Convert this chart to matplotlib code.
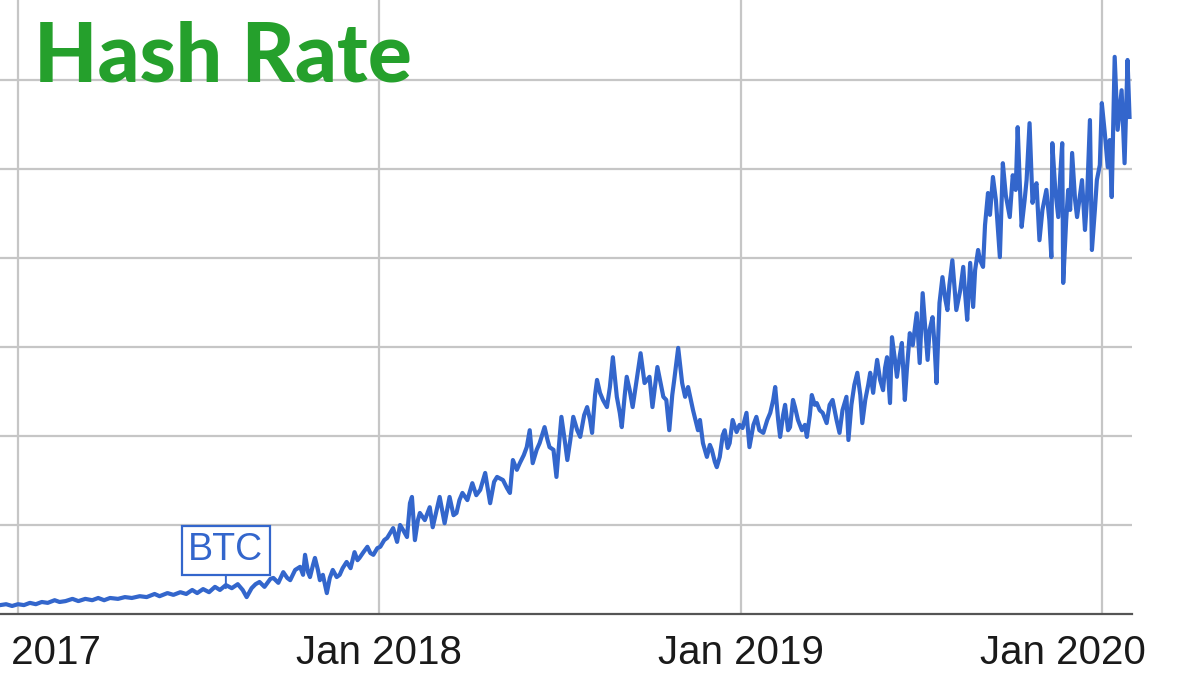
import matplotlib
matplotlib.use("Agg")
import pandas as pd
import matplotlib.pyplot as plt
import matplotlib.transforms as mtrans

# ---------------- data ----------------
START = pd.Timestamp("2017-01-01")
# days since 2017-01-01
days = [-18, -12, -6, 0, 6, 12, 18, 24, 30, 37, 42, 48, 55, 61, 68, 75, 81, 87, 93, 101,
        108, 115, 123, 130, 138, 143, 151, 157, 164, 170, 176, 181, 187, 193, 199, 204, 210, 216, 222, 227,
        231, 236, 240, 244, 249, 255, 258, 263, 268, 272, 275, 280, 285, 288, 290, 293, 295, 298, 300, 303,
        305, 308, 312, 315, 318, 322, 325, 328, 332, 336, 340, 343, 345, 349, 353, 356, 359, 363, 366, 370,
        373, 376, 379, 383, 386, 389, 393, 396, 398, 401, 404, 406, 411, 416, 419, 423, 426, 431, 436, 440,
        443, 446, 449, 454, 459, 463, 467, 472, 477, 481, 484, 490, 494, 497, 500, 504, 507, 511, 514, 517,
        520, 524, 527, 532, 535, 537, 541, 544, 547, 549, 553, 555, 558, 561, 565, 568, 572, 575, 578, 580,
        583, 585, 588, 591, 595, 598, 601, 605, 608, 610, 613, 615, 618, 621, 625, 629, 633, 638, 641, 646,
        652, 655, 658, 661, 663, 667, 671, 674, 677, 682, 687, 689, 692, 696, 699, 701, 704, 706, 709, 712,
        714, 717, 719, 722, 726, 729, 732, 736, 739, 743, 746, 749, 753, 757, 760, 763, 765, 768, 770, 773,
        775, 778, 780, 783, 785, 788, 792, 795, 797, 800, 802, 805, 807, 810, 813, 817, 820, 823, 827, 830,
        833, 837, 839, 842, 845, 848, 851, 853, 856, 859, 861, 864, 866, 868, 871, 874, 876, 878, 881, 883,
        886, 888, 891, 893, 896, 898, 901, 904, 908, 911, 914, 916, 919, 921, 924, 926, 928, 931, 934, 937,
        939, 941, 944, 946, 948, 952, 955, 957, 959, 962, 965, 967, 970, 972, 975, 977, 980, 982, 985, 988,
        992, 995, 998, 1002, 1005, 1008, 1010, 1012, 1014, 1017, 1019, 1022, 1025, 1027, 1029, 1032, 1035, 1039, 1042, 1044,
        1045, 1048, 1051, 1053, 1055, 1056, 1059, 1061, 1063, 1065, 1068, 1070, 1073, 1075, 1078, 1080, 1083, 1085, 1088, 1090,
        1093, 1095, 1098, 1101, 1103, 1105, 1108, 1111, 1113, 1115, 1118, 1121, 1123]
# hash rate, EH/s
hash_rate = [2.0, 2.2, 1.8, 2.2, 2.0, 2.5, 2.2, 2.7, 2.5, 3.1, 2.7, 2.9, 3.4, 2.9, 3.4, 3.1, 3.6, 3.1, 3.6, 3.4,
             3.8, 3.6, 4.0, 3.8, 4.5, 4.0, 4.7, 4.3, 4.9, 4.5, 5.4, 4.7, 5.6, 4.9, 6.1, 5.4, 6.5, 5.8, 6.7, 5.4,
             3.8, 5.8, 6.7, 7.2, 6.1, 7.9, 8.1, 7.0, 9.4, 8.1, 7.6, 9.9, 10.6, 8.8, 13.3, 9.4, 8.3, 11.0, 12.6, 9.9,
             7.6, 8.8, 4.7, 8.1, 9.9, 8.3, 8.8, 10.3, 11.7, 10.3, 13.9, 12.1, 12.6, 13.9, 15.1, 13.7, 13.3, 14.8, 15.1, 16.6,
             17.1, 18.2, 19.3, 16.2, 20.0, 18.9, 17.3, 24.9, 26.3, 16.6, 21.1, 22.7, 21.1, 24.0, 19.5, 23.4, 26.3, 20.4, 26.3, 22.2,
             22.7, 25.6, 27.2, 25.6, 29.4, 26.7, 27.9, 31.7, 24.9, 29.7, 30.8, 30.1, 28.3, 27.2, 34.6, 32.4, 33.9, 35.7, 37.5, 41.3,
             33.9, 36.9, 38.4, 42.0, 39.1, 37.5, 36.9, 30.8, 39.1, 44.3, 38.0, 34.6, 39.1, 44.3, 41.3, 39.8, 44.7, 46.5, 43.6, 40.7,
             49.2, 52.6, 49.7, 48.1, 46.5, 51.0, 57.7, 48.8, 45.2, 42.0, 49.2, 53.3, 50.3, 46.5, 52.6, 58.6, 51.9, 53.3, 46.5, 55.5,
             48.8, 48.1, 41.3, 49.2, 52.6, 59.8, 51.9, 48.8, 51.0, 45.8, 41.3, 43.6, 38.4, 35.3, 38.0, 36.9, 34.2, 33.0, 35.3, 40.2,
             41.3, 37.3, 38.4, 43.6, 40.9, 42.5, 41.8, 45.2, 37.5, 42.5, 44.3, 41.3, 40.7, 43.6, 45.2, 48.1, 51.0, 43.6, 39.8, 44.7,
             47.0, 41.3, 42.0, 48.1, 46.5, 43.6, 41.3, 42.5, 39.8, 44.7, 49.2, 47.0, 47.4, 45.8, 45.2, 42.9, 47.0, 48.1, 43.6, 40.7,
             45.8, 48.8, 39.1, 47.0, 51.5, 54.2, 49.2, 42.9, 48.1, 51.5, 54.2, 49.7, 53.7, 57.1, 52.6, 50.3, 55.3, 57.7, 47.4, 62.2,
             57.1, 53.3, 58.2, 60.9, 48.1, 54.8, 63.1, 60.4, 67.6, 56.4, 72.1, 66.1, 57.1, 63.8, 66.7, 60.4, 51.9, 69.9, 75.7, 70.6,
             68.3, 73.9, 79.5, 73.9, 68.3, 72.8, 78.0, 71.7, 66.1, 78.9, 69.0, 77.3, 81.8, 79.5, 78.0, 87.4, 94.6, 89.7, 98.2, 93.0,
             80.2, 101.3, 94.1, 89.2, 98.6, 95.3, 109.4, 97.5, 87.0, 93.0, 97.5, 110.3, 92.4, 95.3, 96.8, 84.0, 90.8, 95.3, 88.5, 80.2,
             105.8, 95.3, 89.2, 98.6, 105.8, 74.4, 88.5, 95.3, 90.8, 103.6, 93.0, 89.2, 94.1, 97.5, 86.3, 93.0, 111.0, 81.8, 90.8, 97.5,
             100.9, 114.8, 108.1, 100.4, 106.5, 93.7, 125.2, 108.8, 113.2, 117.7, 101.3, 124.5, 111.7]

year_ticks = ["2017-01-01", "2018-01-01", "2019-01-01", "2020-01-01"]
year_labels = ["Jan 2017", "Jan 2018", "Jan 2019", "Jan 2020"]
y_grid = [20, 40, 60, 80, 100, 120, 140]
series_name = "BTC"
btc_label_day = 210
btc_label_value = 5.8
title = "Hash Rate"

# ---------------- styling ----------------
BLUE = "#3366cc"
GREEN = "#25a02c"
GRID = "#c6c6c6"

W, H = 1200, 675
fig = plt.figure(figsize=(W / 100, H / 100), dpi=100)
fig.patch.set_facecolor("white")

ax = fig.add_axes([0, 61 / H, 1132 / W, 712 / H])
ax.set_facecolor("white")

dates = START + pd.to_timedelta(days, unit="D")
ax.plot(dates, hash_rate, color=BLUE, lw=3.0, solid_joinstyle="round", zorder=3)

ax.set_xlim(START + pd.Timedelta(days=-18.2), START + pd.Timedelta(days=1125.5))
ax.set_ylim(0, 160)

ax.set_xticks(pd.to_datetime(year_ticks))
ax.set_yticks(y_grid)
ax.set_xticklabels([])
ax.set_yticklabels([])
ax.tick_params(length=0)
ax.grid(True, color=GRID, lw=1.6, zorder=0)
for s in ["top", "left", "right"]:
    ax.spines[s].set_visible(False)
ax.spines["bottom"].set_color("#555555")
ax.spines["bottom"].set_linewidth(1.6)
ax.spines["bottom"].set_zorder(4)

# x labels (last one nudged left as in the reference)
trans = mtrans.blended_transform_factory(ax.transData, fig.transFigure)
for i, (t, lab) in enumerate(zip(pd.to_datetime(year_ticks), year_labels)):
    tr = trans
    if i == len(year_ticks) - 1:
        tr = trans + mtrans.ScaledTranslation(-0.39, 0, fig.dpi_scale_trans)
    ax.text(t, 1 - 664 / H, lab, transform=tr, ha="center", va="baseline",
            fontsize=29, family="Liberation Sans", color="#1a1a1a", clip_on=False)

# series label box
ax.annotate(series_name, xy=(START + pd.Timedelta(days=btc_label_day), btc_label_value),
            xytext=(0, 38), textcoords="offset pixels", ha="center", va="center",
            fontsize=27, family="Liberation Sans", color=BLUE, zorder=5,
            bbox=dict(boxstyle="square,pad=0.17", fc="white", ec=BLUE, lw=1.6),
            arrowprops=dict(arrowstyle="-", color=BLUE, lw=1.4, shrinkA=0, shrinkB=0))

fig.text(34 / W, 1 - 81 / H, title, ha="left", va="baseline", fontsize=59,
         family="Lato", fontweight="black", color=GREEN)

fig.savefig("out.png", dpi=100, facecolor="white")
